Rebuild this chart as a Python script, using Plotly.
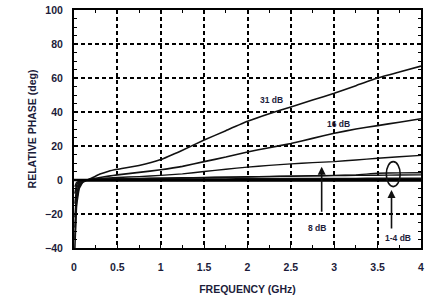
import plotly.graph_objects as go

freq = [0.01, 0.03, 0.06, 0.1, 0.15, 0.2, 0.3, 0.4, 0.5, 0.75, 1.0, 1.25, 1.5, 1.75,
        2.0, 2.25, 2.5, 2.75, 3.0, 3.25, 3.5, 3.75, 4.0]

phase_31db = [-40, -15, -5, -1.5, 0, 1, 3.5, 5.2, 6.3, 8.5, 12, 17.5, 23.5, 29,
              34.5, 39, 43, 47, 51, 55.5, 60, 63.5, 67]
phase_16db = [-35, -12, -4, -1, 0, 0.5, 1.5, 2.3, 3, 4.5, 6, 8, 10.8, 13.5,
              16.5, 19, 21.5, 24.5, 27.5, 30, 32, 34, 36]
phase_8db = [-28, -10, -3, -1, 0, 0.3, 0.8, 1.2, 1.5, 2, 2.7, 3.6, 5, 6.3,
             7.6, 8.6, 9.5, 10.2, 10.8, 11.8, 12.8, 13.7, 14.5]
phase_4db = [-22, -8, -2.5, -0.8, 0, 0.2, 0.5, 0.6, 0.7, 0.9, 1.1, 1.3, 1.5, 1.7,
             1.9, 2.1, 2.3, 2.5, 2.7, 3.0, 4.0, 4.2, 4.3]
phase_2db = [-14, -5, -1.5, -0.5, 0, 0.2, 0.4, 0.5, 0.6, 0.8, 1.0, 1.2, 1.4, 1.6,
             1.8, 2.0, 2.2, 2.4, 2.6, 2.7, 2.8, 2.9, 3.0]
phase_1db = [-8, -3, -1, -0.3, 0, 0.1, 0.2, 0.3, 0.3, 0.4, 0.5, 0.5, 0.6, 0.6,
             0.7, 0.7, 0.8, 0.8, 0.9, 0.9, 1.0, 1.0, 1.0]
phase_ref = [0, 0, 0, 0, 0, 0, 0, 0, 0, 0, 0, 0, 0, 0,
             0, 0, 0, 0, 0, 0, 0, 0, 0]
phase_low = [-4, -1.5, -0.8, -0.6, -0.5, -0.5, -0.5, -0.5, -0.5, -0.6, -0.6, -0.6, -0.6, -0.6,
             -0.6, -0.6, -0.6, -0.6, -0.6, -0.6, -0.6, -0.6, -0.6]

x_ticks = [0, 0.5, 1, 1.5, 2, 2.5, 3, 3.5, 4]
x_tick_labels = ["0", "0.5", "1", "1.5", "2", "2.5", "3", "3.5", "4"]
y_ticks = [-40, -20, 0, 20, 40, 60, 80, 100]

TXT = "#1c1c3a"
FONT = "Liberation Sans"

fig = go.Figure()
series = [(phase_31db, 1.6), (phase_16db, 1.6), (phase_8db, 1.4), (phase_4db, 1.4),
          (phase_2db, 1.4), (phase_1db, 1.6), (phase_low, 1.6)]
for ys, w in series:
    fig.add_trace(go.Scatter(x=freq, y=ys, mode="lines",
                             line=dict(color="#111", width=w, shape="spline", smoothing=0.3),
                             hoverinfo="skip", showlegend=False))
fig.add_trace(go.Scatter(x=[0] + freq, y=[0] + phase_ref, mode="lines",
                         line=dict(color="#000", width=2.5),
                         hoverinfo="skip", showlegend=False))

axis_common = dict(
    showline=True, linecolor="#000", linewidth=2, mirror="ticks",
    ticks="inside", ticklen=4, tickcolor="#000", tickwidth=1.2,
    showgrid=True, gridcolor="#000", gridwidth=1.6, griddash="4px,3px",
    zeroline=False, automargin=False,
    tickfont=dict(family=FONT, size=10.5, color=TXT, weight="bold"),
)

fig.update_xaxes(range=[0, 4], tickvals=x_ticks, ticktext=x_tick_labels,
                 minor=dict(dtick=0.25, ticks="inside", ticklen=3, tickcolor="#000", showgrid=False),
                 title=dict(text="FREQUENCY (GHz)", font=dict(family=FONT, size=10.5, color=TXT, weight="bold"),
                            standoff=14),
                 ticklabelstandoff=8,
                 **axis_common)
fig.update_yaxes(range=[-40, 100], tickvals=y_ticks,
                 minor=dict(dtick=5, ticks="inside", ticklen=3, tickcolor="#000", showgrid=False),
                 title=dict(text="RELATIVE PHASE (deg)", font=dict(family=FONT, size=10.5, color=TXT, weight="bold"),
                            standoff=6),
                 ticklabelstandoff=7,
                 **axis_common)

afont = dict(family=FONT, size=8.5, color=TXT, weight="bold")
fig.add_annotation(x=2.28, y=47, text="31 dB", showarrow=False, font=afont)
fig.add_annotation(x=3.05, y=33.2, text="16 dB", showarrow=False, font=afont)
fig.add_annotation(x=2.80, y=-28, text="8 dB", showarrow=False, font=afont)
fig.add_annotation(x=3.73, y=-34.4, text="1-4 dB", showarrow=False, font=afont)

fig.add_annotation(x=2.855, y=7.8, ax=2.855, ay=-19.5, axref="x", ayref="y",
                   text="", showarrow=True, arrowhead=2, arrowsize=1, arrowwidth=1.6, arrowcolor="#111")
fig.add_annotation(x=3.66, y=-5.9, ax=3.66, ay=-29.4, axref="x", ayref="y",
                   text="", showarrow=True, arrowhead=2, arrowsize=1, arrowwidth=1.6, arrowcolor="#111")
fig.add_shape(type="circle", xref="x", yref="y", x0=3.60, x1=3.76, y0=-3.9, y1=10.8,
              line=dict(color="#111", width=1.6))

fig.update_layout(width=428, height=296, margin=dict(l=74, r=7, t=10, b=48),
                  plot_bgcolor="white", paper_bgcolor="white")

fig.write_html("out.html", config={"displayModeBar": False},
               post_script="document.body.style.margin='0';document.body.style.overflow='hidden';")
